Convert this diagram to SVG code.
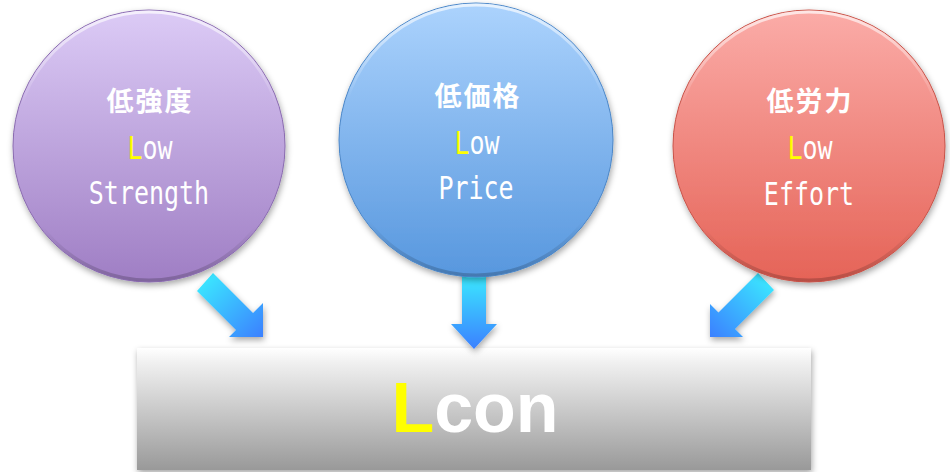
<svg xmlns="http://www.w3.org/2000/svg" width="950" height="472" viewBox="0 0 950 472">
<style>
.cjk{font-family:"Noto Sans CJK JP","Noto Sans",sans-serif;font-weight:700;font-size:27px;fill:#fff;text-anchor:middle;letter-spacing:2px}
.lat{font-family:"DejaVu Sans Mono","Liberation Mono",monospace;font-size:25px;fill:#fff;text-anchor:middle}
.big{font-family:"Liberation Sans",Arial,sans-serif;font-weight:700;font-size:70px;fill:#fff;text-anchor:middle}
.y{fill:#ffff00}
.rim{fill:none;stroke:url(#rim);stroke-width:3}
</style>
<defs>
<linearGradient id="gP" x1="0" y1="0" x2="0" y2="1"><stop offset="0" stop-color="#dccbf6"/><stop offset="1" stop-color="#9f7ec4"/></linearGradient>
<linearGradient id="gB" x1="0" y1="0" x2="0" y2="1"><stop offset="0" stop-color="#acd3fd"/><stop offset="1" stop-color="#5797de"/></linearGradient>
<linearGradient id="gR" x1="0" y1="0" x2="0" y2="1"><stop offset="0" stop-color="#fbaca8"/><stop offset="1" stop-color="#e56357"/></linearGradient>
<linearGradient id="rim" x1="0" y1="0" x2="0" y2="1"><stop offset="0" stop-color="#fff" stop-opacity="0.7"/><stop offset="0.35" stop-color="#fff" stop-opacity="0"/><stop offset="0.8" stop-color="#000" stop-opacity="0"/><stop offset="1" stop-color="#000" stop-opacity="0.2"/></linearGradient>
<linearGradient id="gBox" x1="0" y1="0" x2="0" y2="1"><stop offset="0" stop-color="#ffffff"/><stop offset="0.12" stop-color="#f0f0f0"/><stop offset="1" stop-color="#999999"/></linearGradient>
<linearGradient id="aD" x1="0" y1="0" x2="1" y2="1"><stop offset="0" stop-color="#3af2ff"/><stop offset="1" stop-color="#3a80ff"/></linearGradient>
<linearGradient id="aV" x1="0" y1="0" x2="0" y2="1"><stop offset="0" stop-color="#3af2ff"/><stop offset="1" stop-color="#3a80ff"/></linearGradient>
<linearGradient id="aL" x1="1" y1="0" x2="0" y2="1"><stop offset="0" stop-color="#3af2ff"/><stop offset="1" stop-color="#3a80ff"/></linearGradient>
<filter id="sh" x="-20%" y="-20%" width="140%" height="140%"><feDropShadow dx="1" dy="3" stdDeviation="3" flood-color="#000" flood-opacity="0.35"/></filter>
</defs>

<g id="lcon" filter="url(#sh)">
<rect x="137" y="348" width="674" height="122" fill="url(#gBox)"/>
<text class="big" x="475" y="432"><tspan class="y">L</tspan>con</text>
</g>

<g id="connectors" filter="url(#sh)">
<polygon points="213,273 253,313 263,303 263,337 229,337 236,330 197,291" fill="url(#aD)"/>
<polygon points="462,269 486,269 486,324 497,324 474,349 451,324 462,324" fill="url(#aV)"/>
<polygon points="758,273 774,290 735,329 743,337 710,337 710,304 718.5,312.5" fill="url(#aL)"/>
</g>

<g id="strength">
<circle cx="149" cy="146" r="136" fill="url(#gP)" stroke="#8a6bb0" stroke-width="1" filter="url(#sh)"/>
<circle class="rim" cx="149" cy="146" r="134"/>
<text class="cjk" x="150" y="111">低強度</text>
<text class="lat" transform="translate(150,159) scale(1,1.25)"><tspan class="y">L</tspan>ow</text>
<text class="lat" transform="translate(149,204) scale(1,1.25)">Strength</text>
</g>

<g id="price">
<circle cx="476" cy="140" r="137" fill="url(#gB)" stroke="#4a86c8" stroke-width="1" filter="url(#sh)"/>
<circle class="rim" cx="476" cy="140" r="135"/>
<text class="cjk" x="478" y="106">低価格</text>
<text class="lat" transform="translate(477,154) scale(1,1.25)"><tspan class="y">L</tspan>ow</text>
<text class="lat" transform="translate(476,199) scale(1,1.25)">Price</text>
</g>

<g id="effort">
<circle cx="809" cy="146" r="136" fill="url(#gR)" stroke="#c85248" stroke-width="1" filter="url(#sh)"/>
<circle class="rim" cx="809" cy="146" r="134"/>
<text class="cjk" x="810" y="111">低労力</text>
<text class="lat" transform="translate(810,159) scale(1,1.25)"><tspan class="y">L</tspan>ow</text>
<text class="lat" transform="translate(809,205) scale(1,1.25)">Effort</text>
</g>
</svg>
